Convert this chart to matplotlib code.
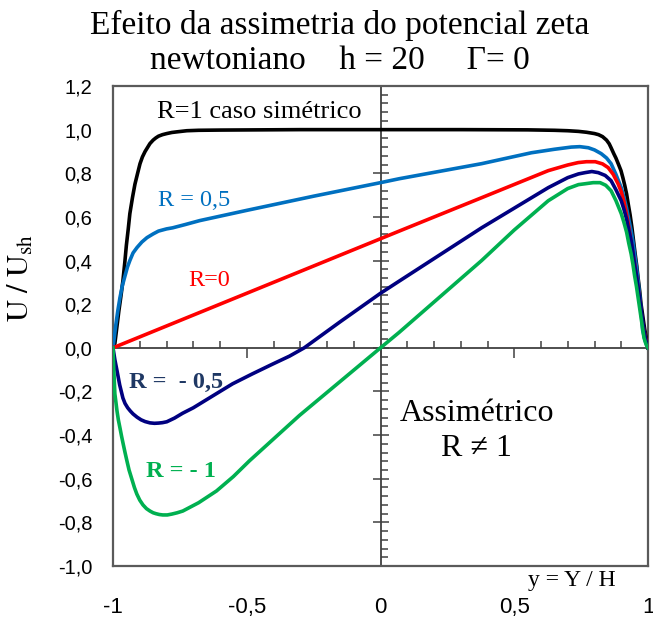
import numpy as np
import matplotlib.pyplot as plt
from matplotlib.ticker import MultipleLocator

plt.rcParams['mathtext.fontset'] = 'stix'

# curves: y = Y/H and U/Ush
x_R1 = [-1.0, -0.993, -0.985, -0.978, -0.97, -0.963, -0.956, -0.95, -0.943, -0.937, -0.927, -0.918, -0.908, -0.899, -0.89,
        -0.88, -0.87, -0.862, -0.85, -0.84, -0.83, -0.815, -0.799, -0.78, -0.76, -0.724, -0.68, -0.6, -0.3,
        0.0, 0.3, 0.55, 0.65, 0.7, 0.74, 0.77, 0.8, 0.815, 0.83, 0.845, 0.855, 0.862, 0.872, 0.88, 0.89, 0.899,
        0.906, 0.913, 0.92, 0.926, 0.933, 0.94, 0.946, 0.952, 0.958, 0.963, 0.969, 0.974, 0.98, 0.987, 0.994, 1.0]
u_R1 = [0.0, 0.02, 0.1, 0.17, 0.24, 0.307, 0.39, 0.47, 0.545, 0.615, 0.69, 0.75, 0.8, 0.844, 0.875,
        0.9, 0.92, 0.936, 0.952, 0.962, 0.97, 0.977, 0.982, 0.987, 0.99, 0.995, 0.997, 0.998, 1.0,
        1.0, 1.0, 0.999, 0.997, 0.995, 0.992, 0.988, 0.982, 0.977, 0.968, 0.952, 0.935, 0.917, 0.89, 0.87, 0.84, 0.812,
        0.78, 0.745, 0.705, 0.66, 0.61, 0.55, 0.49, 0.43, 0.375, 0.32, 0.26, 0.2, 0.15, 0.09, 0.04, 0.0]

x_R05 = [-1.0, -0.995, -0.99, -0.982, -0.974, -0.965, -0.955, -0.946, -0.937, -0.925, -0.91, -0.892, -0.873, -0.85,
         -0.83, -0.8, -0.777, -0.73, -0.676, -0.5, -0.25, 0.0, 0.07, 0.378,
         0.564, 0.65, 0.713, 0.745, 0.777, 0.8, 0.825, 0.845, 0.862, 0.88, 0.9, 0.91, 0.92, 0.928, 0.937, 0.944,
         0.95, 0.957, 0.963, 0.972, 0.98, 0.99, 1.0]
u_R05 = [0.0, 0.05, 0.1, 0.17, 0.23, 0.285, 0.33, 0.37, 0.40, 0.435, 0.46, 0.485, 0.505, 0.522,
         0.535, 0.545, 0.55, 0.565, 0.583, 0.63, 0.695, 0.757, 0.775, 0.844,
         0.894, 0.91, 0.92, 0.922, 0.917, 0.907, 0.89, 0.87, 0.844, 0.795, 0.734, 0.69, 0.64, 0.59, 0.537, 0.485,
         0.43, 0.37, 0.307, 0.2, 0.08, 0.03, 0.0]

x_R0 = [-1.0, -0.5, 0.0, 0.07, 0.378, 0.627, 0.7, 0.739, 0.77, 0.803, 0.83, 0.851, 0.87, 0.888, 0.9, 0.91,
        0.918, 0.926, 0.933, 0.94, 0.948, 0.955, 0.962, 0.97, 0.98, 0.99, 1.0]
u_R0 = [0.0, 0.25, 0.5, 0.535, 0.688, 0.812, 0.838, 0.849, 0.853, 0.853, 0.843, 0.826, 0.795, 0.752, 0.715, 0.67,
        0.62, 0.569, 0.515, 0.46, 0.4, 0.34, 0.28, 0.2, 0.11, 0.05, 0.0]

x_Rm05 = [-1.0, -0.993, -0.985, -0.975, -0.963, -0.955, -0.945, -0.935, -0.925, -0.91, -0.895, -0.88, -0.862, -0.845,
          -0.83, -0.815, -0.799, -0.77, -0.74, -0.7, -0.676, -0.62, -0.553, -0.48, -0.404, -0.34,
          -0.285, -0.15, 0.0, 0.069, 0.378, 0.627, 0.7, 0.74, 0.765, 0.79, 0.814, 0.84, 0.862, 0.88, 0.9, 0.91, 0.92,
          0.928, 0.937, 0.944, 0.95, 0.957, 0.963, 0.975, 0.985, 0.993, 1.0]
u_Rm05 = [0.0, -0.055, -0.105, -0.17, -0.23, -0.255, -0.275, -0.29, -0.303, -0.318, -0.33, -0.338, -0.344, -0.346,
          -0.345, -0.343, -0.339, -0.322, -0.3, -0.275, -0.257, -0.215, -0.165, -0.12, -0.075, -0.038,
          0.0, 0.12, 0.25, 0.305, 0.55, 0.734, 0.78, 0.797, 0.803, 0.808, 0.803, 0.79, 0.766, 0.725, 0.674, 0.635, 0.59,
          0.54, 0.49, 0.435, 0.38, 0.33, 0.275, 0.17, 0.08, 0.03, 0.0]

x_Rm1 = [-1.0, -0.997, -0.993, -0.989, -0.985, -0.98, -0.974, -0.968, -0.962, -0.955, -0.948, -0.94, -0.93, -0.92,
         -0.911, -0.9, -0.888, -0.875, -0.862, -0.85, -0.84, -0.827, -0.814, -0.797, -0.78, -0.76, -0.739,
         -0.68, -0.613, -0.55, -0.49, -0.303, 0.0, 0.069, 0.378, 0.5, 0.627, 0.7, 0.74, 0.765, 0.795, 0.821, 0.842,
         0.862, 0.88, 0.9, 0.91, 0.92, 0.928, 0.937, 0.944, 0.95, 0.957, 0.963, 0.975, 0.985, 0.993, 1.0]
u_Rm1 = [0.0, -0.1, -0.211, -0.25, -0.29, -0.33, -0.367, -0.405, -0.44, -0.48, -0.518, -0.56, -0.6, -0.64,
         -0.67, -0.698, -0.72, -0.737, -0.748, -0.756, -0.76, -0.764, -0.766, -0.766, -0.762, -0.756, -0.748,
         -0.71, -0.656, -0.59, -0.518, -0.31, 0.0, 0.07, 0.4, 0.54, 0.674, 0.73, 0.748, 0.752, 0.757, 0.757, 0.745,
         0.72, 0.675, 0.615, 0.575, 0.53, 0.48, 0.43, 0.38, 0.33, 0.28, 0.23, 0.13, 0.046, 0.015, 0.0]

curves = [(x_R1, u_R1, 'black'), (x_R05, u_R05, '#0070C0'), (x_R0, u_R0, '#FF0000'),
          (x_Rm05, u_Rm05, '#000080'), (x_Rm1, u_Rm1, '#00B050')]

xticks = [-1, -0.5, 0, 0.5, 1]
xlabels = ['-1', '-0,5', '0', '0,5', '1']
yticks = [-1.0, -0.8, -0.6, -0.4, -0.2, 0.0, 0.2, 0.4, 0.6, 0.8, 1.0, 1.2]
ylabels = ['-1,0', '-0,8', '-0,6', '-0,4', '-0,2', '0,0', '0,2', '0,4', '0,6', '0,8', '1,0', '1,2']

fig = plt.figure(figsize=(6.53, 6.18), dpi=100)
rect = [113/653, 52/618, 535/653, 480/618]

# outer frame with the tick labels
ax = fig.add_axes(rect)
ax.set_xlim(-1, 1)
ax.set_ylim(-1, 1.2)
for s in ax.spines.values():
    s.set_color('#5a5a5a')
    s.set_linewidth(1.6)
ax.set_xticks(xticks)
ax.set_xticklabels(xlabels, fontfamily='Liberation Sans', fontsize=16)
ax.set_yticks(yticks)
ax.set_yticklabels(ylabels, fontfamily='Liberation Sans', fontsize=14.5)
ax.tick_params(axis='x', length=0, pad=22)
ax.tick_params(axis='y', length=0, pad=15)
ax.set_ylabel(r'$\mathrm{U\ /\ U_{sh}}$', fontsize=22)
ax.yaxis.set_label_coords(-0.145, 0.6)

for xs, us, c in curves:
    ax.plot(xs, us, color=c, lw=2.6, solid_joinstyle='round', zorder=3)

# axes crossing at the origin
ax2 = fig.add_axes(rect)
ax2.set_xlim(-1, 1)
ax2.set_ylim(-1, 1.2)
ax2.patch.set_visible(False)
ax2.spines['top'].set_visible(False)
ax2.spines['right'].set_visible(False)
ax2.spines['left'].set_position(('data', 0))
ax2.spines['bottom'].set_position(('data', 0))
for s in ['left', 'bottom']:
    ax2.spines[s].set_color('#404040')
    ax2.spines[s].set_linewidth(1.3)
ax2.xaxis.set_major_locator(MultipleLocator(0.5))
ax2.xaxis.set_minor_locator(MultipleLocator(0.1))
ax2.yaxis.set_major_locator(MultipleLocator(0.2))
ax2.yaxis.set_minor_locator(MultipleLocator(0.04))
ax2.tick_params(which='major', axis='x', direction='out', length=7, width=1.1, color='#404040', labelbottom=False)
ax2.tick_params(which='minor', axis='x', direction='in', length=5, width=1.1, color='#404040')
ax2.tick_params(which='major', axis='y', direction='inout', length=12, width=1.1, color='#404040', labelleft=False)
ax2.tick_params(which='minor', axis='y', direction='in', length=5, width=1.1, color='#404040')
ax2.set_zorder(ax.get_zorder() - 1)
ax.patch.set_visible(False)

serif = 'Liberation Serif'
fig.text(0.52, 0.958, 'Efeito da assimetria do potencial zeta', ha='center', va='center', family=serif, fontsize=24)
fig.text(0.52, 0.902, 'newtoniano    h = 20     \u0393= 0', ha='center', va='center', family=serif, fontsize=24)

ax.text(0.715, -1.065, 'y = Y / H', ha='center', va='center', family=serif, fontsize=17, clip_on=False)
ax.text(-0.835, 1.08, 'R=1 caso simétrico', ha='left', va='center', family=serif, fontsize=19)
ax.text(-0.83, 0.675, 'R = 0,5', ha='left', va='center', family=serif, fontsize=17.5, color='#0070C0')
ax.text(-0.72, 0.31, 'R=0', ha='left', va='center', family=serif, fontsize=17.5, color='#FF0000')
ax.text(-0.94, -0.16, 'R =  - 0,5', ha='left', va='center', family=serif, fontsize=17.5, fontweight='bold', color='#1F3864')
ax.text(-0.875, -0.565, 'R = - 1', ha='left', va='center', family=serif, fontsize=17.5, fontweight='bold', color='#00B050')
ax.text(0.36, -0.3, 'Assimétrico', ha='center', va='center', family=serif, fontsize=23)
ax.text(0.36, -0.46, 'R \u2260 1', ha='center', va='center', family=serif, fontsize=23)

fig.savefig('out.png', dpi=100)
